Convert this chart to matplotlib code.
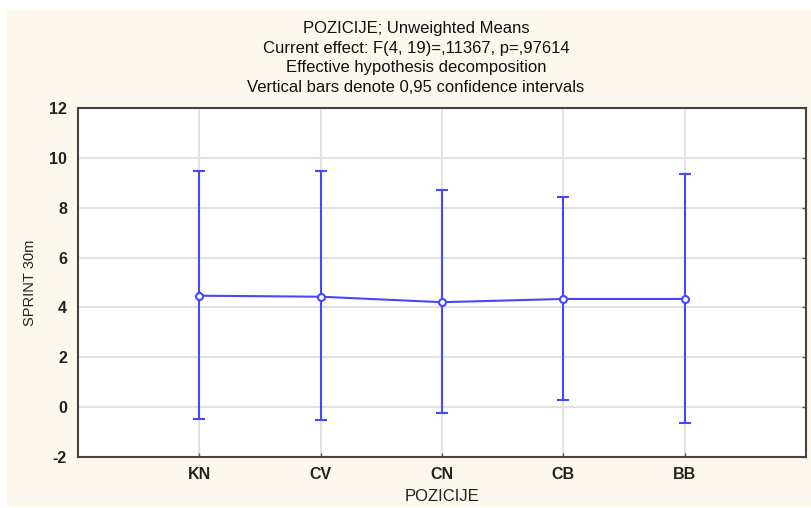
import matplotlib
matplotlib.use("Agg")
import matplotlib.pyplot as plt
from matplotlib.patches import Rectangle

categories = ["KN", "CV", "CN", "CB", "BB"]
means = [4.47, 4.43, 4.21, 4.34, 4.34]
ci_upper = [9.47, 9.47, 8.73, 8.43, 9.34]
ci_lower = [-0.47, -0.53, -0.23, 0.30, -0.62]
yticks = [-2, 0, 2, 4, 6, 8, 10, 12]

title_lines = ["POZICIJE; Unweighted Means",
               "Current effect: F(4, 19)=,11367, p=,97614",
               "Effective hypothesis decomposition",
               "Vertical bars denote 0,95 confidence intervals"]

plt.rcParams['font.family'] = ['Liberation Sans', 'DejaVu Sans']

fig = plt.figure(figsize=(8.12, 5.08), dpi=100, facecolor='white')
fig.patches.append(Rectangle((7/812, 1/508), 1 - 7/812, 497/508,
                             transform=fig.transFigure, facecolor='#FDF8EE',
                             edgecolor='none', zorder=-10))

ax = fig.add_axes([78/812, 51/508, (806-78)/812, (457-108)/508])
ax.set_facecolor('white')

x = list(range(1, len(categories) + 1))
yerr_low = [m - l for m, l in zip(means, ci_lower)]
yerr_up = [u - m for m, u in zip(means, ci_upper)]
color = '#4747FF'
ax.errorbar(x, means, yerr=[yerr_low, yerr_up], color=color, lw=1.5,
            ecolor=color, elinewidth=1.5, capsize=4.5, capthick=1.5,
            marker='o', markersize=5, markerfacecolor='white',
            markeredgecolor=color, markeredgewidth=1.5, zorder=3)

ax.set_xlim(0, 6)
ax.set_ylim(-2, 12)
ax.set_xticks(x)
ax.set_xticklabels(categories, fontsize=11.5, fontweight='bold', color='#222222')
ax.set_yticks(yticks)
ax.set_yticklabels([str(t) for t in yticks], fontsize=11.5, fontweight='bold', color='#222222')
ax.tick_params(direction='in', length=3, width=1, color='#555555',
               top=False, right=True, left=False, bottom=True)
ax.tick_params(axis='x', pad=7)
ax.tick_params(axis='y', pad=8)
ax.grid(True, color='#E2E2E2', lw=1.5, zorder=0)
ax.set_axisbelow(True)
for s in ax.spines.values():
    s.set_color('#444444')
    s.set_linewidth(1.5)

ax.set_xlabel("POZICIJE", fontsize=12, color='#222222', labelpad=5)
ax.set_ylabel("SPRINT 30m", fontsize=10.5, color='#222222', labelpad=9)

ys = [29, 48, 67.5, 87]
for t, yy in zip(title_lines, ys):
    fig.text(416/812, 1 - yy/508, t, ha='center', va='center', fontsize=12, color='#111111')

fig.savefig("out.png", dpi=100, facecolor=fig.get_facecolor())
